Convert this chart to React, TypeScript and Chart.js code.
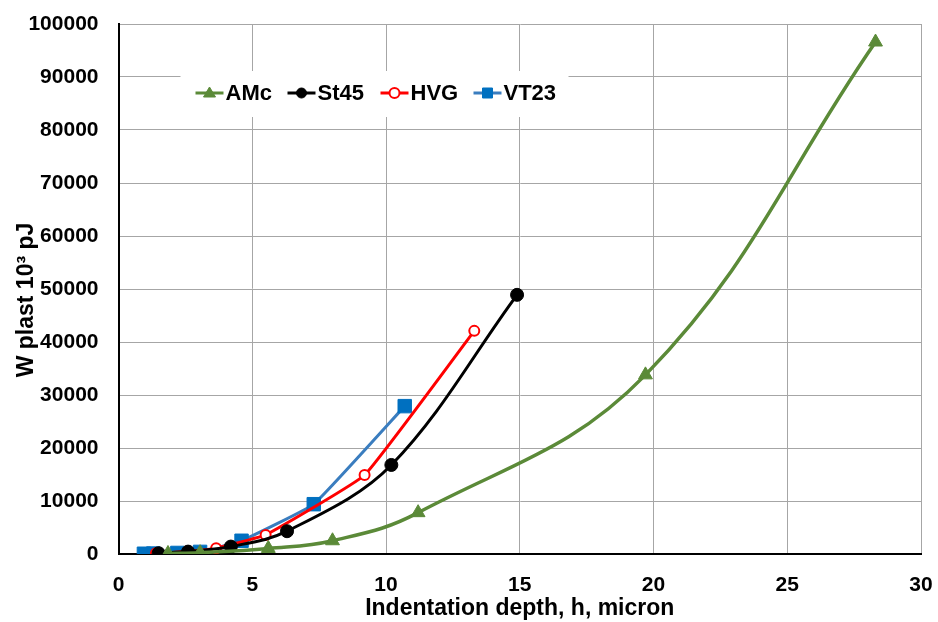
import React, { useEffect, useRef } from "react";
import { Chart, registerables } from "chart.js";

Chart.register(...registerables);

const amcH = [1.85, 3.05, 5.6, 8.0, 11.2, 19.7, 28.3];
const amcW = [100, 250, 1050, 2500, 7800, 33800, 96600];

const st45H = [1.5, 2.6, 4.2, 6.3, 10.2, 14.9];
const st45W = [150, 450, 1400, 4300, 16800, 48900];

const hvgH = [1.4, 2.6, 3.65, 5.5, 9.2, 13.3];
const hvgW = [120, 500, 1100, 3600, 14900, 42100];

const vt23H = [0.95, 1.3, 2.2, 3.05, 4.6, 7.3, 10.7];
const vt23W = [50, 80, 200, 400, 2500, 9400, 27900];

const xTicks = [0, 5, 10, 15, 20, 25, 30];
const yMax = 100000;
const yStep = 10000;

const xTitle = "Indentation depth, h, micron";
const yTitle = "W plast 10³ pJ";

const FONT = "'Liberation Sans', Arial, sans-serif";

const toPts = (h: number[], w: number[]) => h.map((x, i) => ({ x, y: w[i] }));

const yTitlePlugin = {
  id: "yTitle",
  afterDraw(chart: any) {
    const ctx = chart.ctx;
    const ca = chart.chartArea;
    ctx.save();
    ctx.translate(33, (ca.top + ca.bottom) / 2 + 11);
    ctx.rotate(-Math.PI / 2);
    ctx.fillStyle = "#000000";
    ctx.font = `bold 23px ${FONT}`;
    ctx.textAlign = "center";
    ctx.textBaseline = "alphabetic";
    ctx.fillText(yTitle, 0, 0);
    ctx.restore();
  },
};

const legendPlugin = {
  id: "boxLegend",
  afterDraw(chart: any) {
    const ctx = chart.ctx;
    const ca = chart.chartArea;
    const left = ca.left + 62;
    const top = ca.top + 47;
    ctx.save();
    ctx.fillStyle = "#ffffff";
    ctx.fillRect(left, top, 388, 46);
    const y = top + 22;
    const itemX = [15, 107, 200, 293];
    chart.data.datasets.forEach((ds: any, i: number) => {
      const x0 = left + itemX[i];
      ctx.strokeStyle = ds.borderColor;
      ctx.lineWidth = 3;
      ctx.beginPath();
      ctx.moveTo(x0, y);
      ctx.lineTo(x0 + 28, y);
      ctx.stroke();
      const cx = x0 + 14;
      ctx.fillStyle = ds.pointBackgroundColor;
      ctx.strokeStyle = ds.pointBorderColor;
      ctx.lineWidth = ds.pointBorderWidth;
      const r = 5;
      ctx.beginPath();
      if (ds.pointStyle === "triangle") {
        ctx.moveTo(cx, y - r - 1);
        ctx.lineTo(cx + r + 1, y + r - 1);
        ctx.lineTo(cx - r - 1, y + r - 1);
        ctx.closePath();
      } else if (ds.pointStyle === "rect") {
        ctx.rect(cx - r, y - r, 2 * r, 2 * r);
      } else {
        ctx.arc(cx, y, r, 0, Math.PI * 2);
      }
      ctx.fill();
      ctx.stroke();
      ctx.fillStyle = "#000000";
      ctx.font = `bold 22px ${FONT}`;
      ctx.textBaseline = "middle";
      ctx.textAlign = "left";
      ctx.fillText(ds.label, x0 + 30, y + 1);
    });
    ctx.restore();
  },
};

export default function App() {
  const ref = useRef<HTMLCanvasElement | null>(null);
  useEffect(() => {
    document.body.style.margin = "0";
    const canvas = ref.current;
    if (!canvas) return;
    const chart = new Chart(canvas, {
      type: "scatter",
      data: {
        datasets: [
          {
            label: "AMc",
            data: toPts(amcH, amcW),
            showLine: true,
            borderColor: "#5b8a38",
            borderWidth: 3.5,
            tension: 0.4,
            pointStyle: "triangle",
            pointRadius: 8,
            pointBackgroundColor: "#5b8a38",
            pointBorderColor: "#5b8a38",
            pointBorderWidth: 1,
          },
          {
            label: "St45",
            data: toPts(st45H, st45W),
            showLine: true,
            borderColor: "#000000",
            borderWidth: 3,
            tension: 0.35,
            pointStyle: "circle",
            pointRadius: 6.5,
            pointBackgroundColor: "#000000",
            pointBorderColor: "#000000",
            pointBorderWidth: 1,
          },
          {
            label: "HVG",
            data: toPts(hvgH, hvgW),
            showLine: true,
            borderColor: "#ff0000",
            borderWidth: 3,
            tension: 0.1,
            pointStyle: "circle",
            pointRadius: 5,
            pointBackgroundColor: "#ffffff",
            pointBorderColor: "#ff0000",
            pointBorderWidth: 2,
          },
          {
            label: "VT23",
            data: toPts(vt23H, vt23W),
            showLine: true,
            borderColor: "#3a7dbf",
            borderWidth: 3,
            tension: 0.1,
            pointStyle: "rect",
            pointRadius: 9.5,
            pointBackgroundColor: "#0070c0",
            pointBorderColor: "#0070c0",
            pointBorderWidth: 1,
          },
        ],
      },
      options: {
        animation: false,
        responsive: false,
        layout: { padding: { top: 24, right: 17, left: 0, bottom: 0 } },
        plugins: {
          legend: { display: false },
          tooltip: { enabled: false },
        },
        scales: {
          x: {
            type: "linear",
            min: xTicks[0],
            max: xTicks[xTicks.length - 1],
            afterBuildTicks: (s: any) => {
              s.ticks = xTicks.map((v) => ({ value: v }));
            },
            afterFit: (s: any) => {
              s.height = 68;
            },
            grid: {
              color: "#a6a6a6",
              lineWidth: 1,
              drawTicks: true,
              tickLength: 17,
              tickColor: "rgba(0,0,0,0)",
            },
            border: { color: "#000000", width: 2 },
            ticks: {
              color: "#000000",
              font: { family: FONT, size: 21, weight: "bold" },
              padding: 2,
            },
            title: {
              display: true,
              text: xTitle,
              color: "#000000",
              font: { family: FONT, size: 23, weight: "bold" },
              padding: { top: 0, bottom: 0 },
            },
          },
          y: {
            type: "linear",
            min: 0,
            max: yMax,
            ticks: {
              stepSize: yStep,
              color: "#000000",
              font: { family: FONT, size: 21, weight: "bold" },
              padding: 2,
              callback: (v: any) => String(v),
            },
            afterFit: (s: any) => {
              s.width = 118.5;
            },
            grid: {
              color: "#a6a6a6",
              lineWidth: 1,
              drawTicks: true,
              tickLength: 18,
              tickColor: "rgba(0,0,0,0)",
            },
            border: { color: "#000000", width: 2 },
            title: { display: false },
          },
        },
      },
      plugins: [legendPlugin, yTitlePlugin],
    } as any);
    return () => chart.destroy();
  }, []);
  return (
    <div style={{ position: "absolute", left: 0, top: 0, width: 938, height: 622 }}>
      <canvas ref={ref} width={938} height={622} style={{ display: "block" }} />
    </div>
  );
}
